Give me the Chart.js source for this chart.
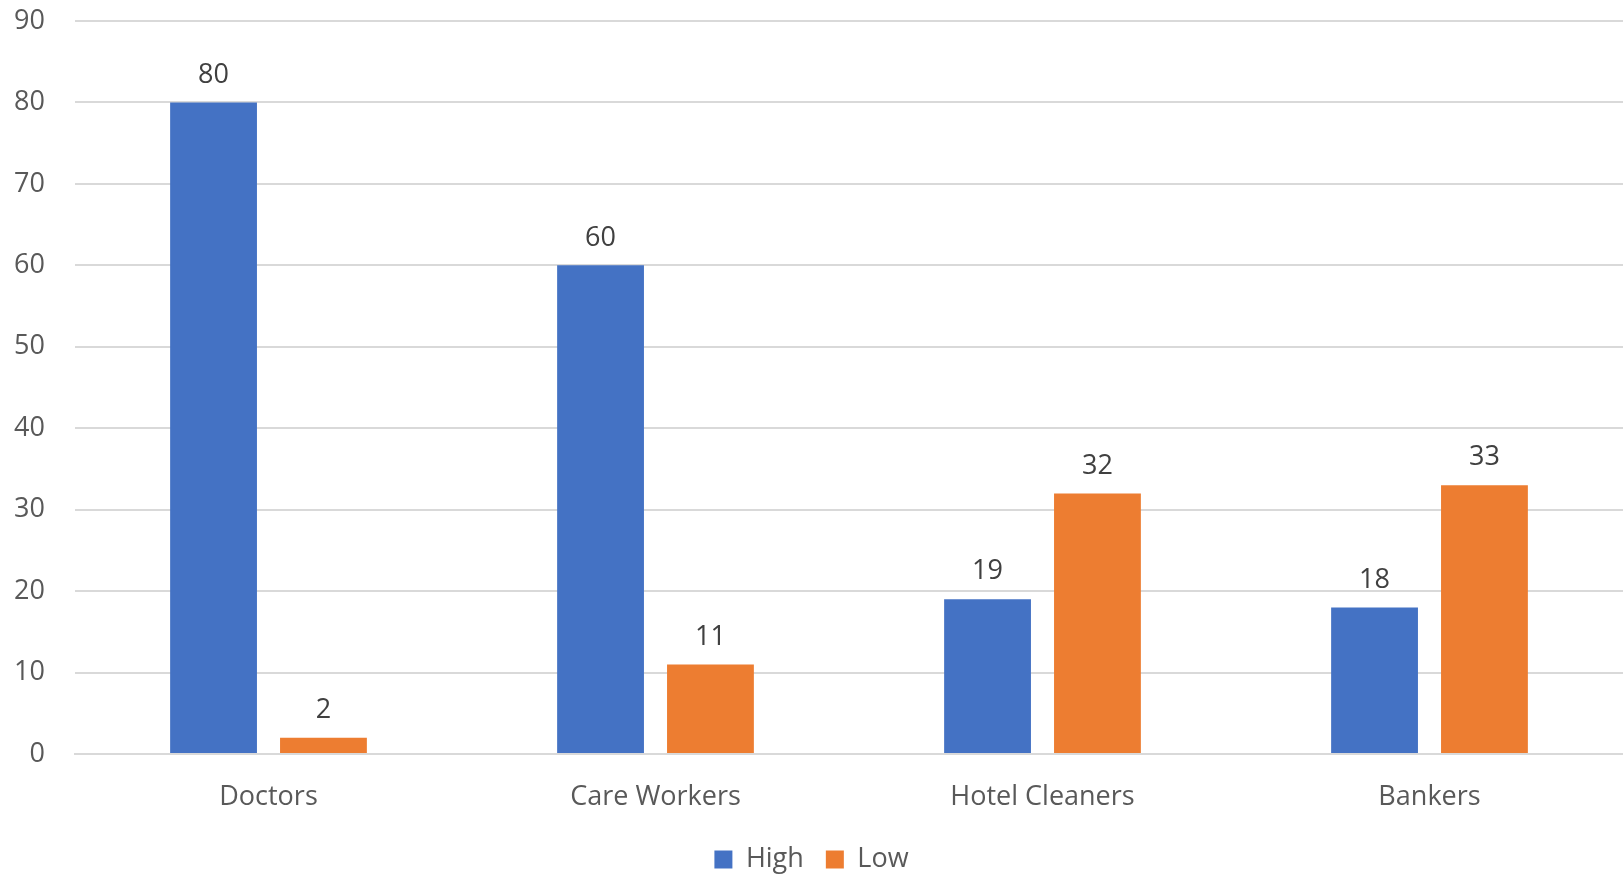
<!DOCTYPE html>
<html>
<head>
<meta charset="utf-8">
<script src="https://cdn.jsdelivr.net/npm/chart.js@4"></script>
<style>
    html, body { margin: 0; padding: 0; background: #ffffff; overflow: hidden; }
    #frame { width: 1623px; height: 875px; overflow: hidden; position: relative; }
    #wrap { width: 1623px; height: 883px; position: absolute; left: 0; top: 0; }
</style>
</head>
<body>
<div id="frame"><div id="wrap"><canvas id="bar-chart"></canvas></div></div>
<script>
// chart data
const categories = ['Doctors', 'Care Workers', 'Hotel Cleaners', 'Bankers'];
const highValues = [80, 60, 19, 18];
const lowValues = [2, 11, 32, 33];
const yTicks = [0, 10, 20, 30, 40, 50, 60, 70, 80, 90];

const fontFamily = "'Open Sans', sans-serif";
const axisText = '#595959';
const gridColor = '#d9d9d9';

// draws the value above each bar
const valueLabels = {
    id: 'valueLabels',
    afterDatasetsDraw(chart) {
        const ctx = chart.ctx;
        ctx.save();
        ctx.font = `27px ${fontFamily}`;
        ctx.fillStyle = '#404040';
        ctx.textAlign = 'center';
        ctx.textBaseline = 'bottom';
        chart.data.datasets.forEach((ds, i) => {
            chart.getDatasetMeta(i).data.forEach((bar, j) => {
                ctx.fillText(ds.data[j], bar.x, bar.y - 14);
            });
        });
        ctx.restore();
    }
};

const ctx = document.getElementById('bar-chart').getContext('2d');
new Chart(ctx, {
    type: 'bar',
    data: {
        labels: categories,
        datasets: [
            {
                label: 'High',
                data: highValues,
                backgroundColor: '#4472c4',
                categoryPercentage: 0.568,
                barPercentage: 0.79
            },
            {
                label: 'Low',
                data: lowValues,
                backgroundColor: '#ed7d31',
                categoryPercentage: 0.568,
                barPercentage: 0.79
            }
        ]
    },
    options: {
        responsive: true,
        maintainAspectRatio: false,
        animation: false,
        layout: { padding: { top: 21, right: 0, bottom: 0, left: 0 } },
        scales: {
            x: {
                afterFit: (scale) => { scale.height = 70; },
                grid: { display: false },
                border: { color: gridColor, width: 2 },
                ticks: { color: axisText, padding: 19, font: { size: 27, family: fontFamily } }
            },
            y: {
                min: 0,
                max: 90,
                afterBuildTicks: (scale) => { scale.ticks = yTicks.map(v => ({ value: v })); },
                afterFit: (scale) => { scale.width = 75; scale.paddingTop = 0; },
                grid: { color: gridColor, lineWidth: 2, drawTicks: false },
                border: { display: false },
                ticks: { color: axisText, padding: 30, font: { size: 27, family: fontFamily } }
            }
        },
        plugins: {
            legend: {
                position: 'bottom',
                labels: {
                    color: axisText,
                    boxWidth: 18,
                    boxHeight: 18,
                    padding: 22,
                    font: { size: 27, family: fontFamily }
                }
            },
            tooltip: { enabled: false }
        }
    },
    plugins: [valueLabels]
});
</script>
</body>
</html>
